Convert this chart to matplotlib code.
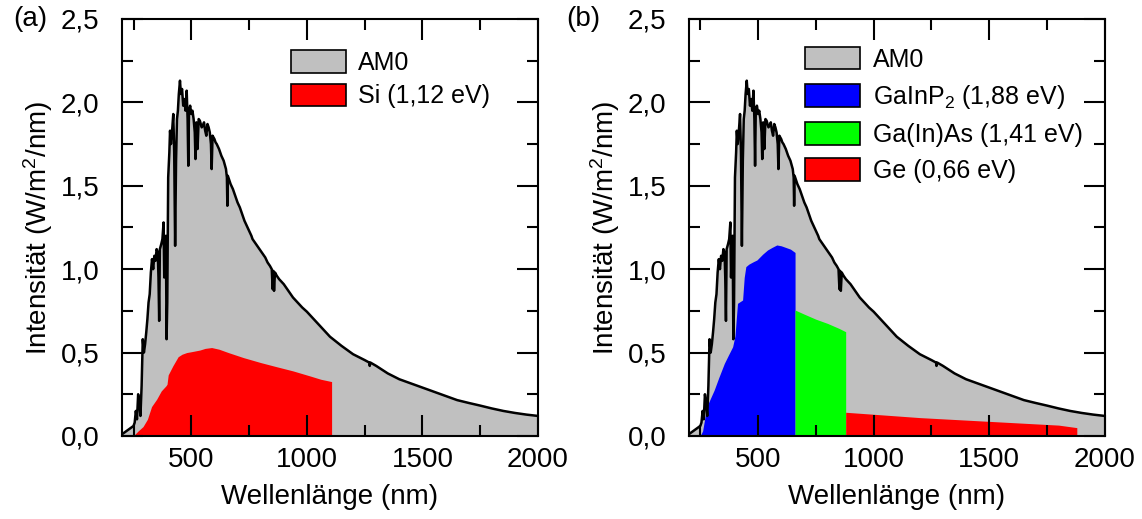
import matplotlib
matplotlib.use("Agg")
import matplotlib.pyplot as plt
from matplotlib.patches import Patch
from matplotlib.ticker import MultipleLocator, FuncFormatter

plt.rcParams['font.family'] = ['Liberation Sans', 'DejaVu Sans']
plt.rcParams['mathtext.fontset'] = 'custom'
plt.rcParams['mathtext.rm'] = 'Liberation Sans'
plt.rcParams['mathtext.it'] = 'Liberation Sans:italic'
plt.rcParams['mathtext.default'] = 'regular'

# AM0 spectrum (nm, W/m^2/nm)
am0_wl = [200, 220, 240, 250, 255, 260, 265, 270, 275, 280, 285, 290, 295, 300,
          305, 310, 315, 320, 325, 330, 335, 340, 345, 350, 355, 358, 361, 364,
          370, 375, 380, 383, 386, 390, 393, 396, 400, 405, 408, 412, 418, 422,
          426, 430, 434, 438, 442, 446, 451, 455, 460, 465, 470, 475, 480, 484,
          487, 490, 495, 500, 505, 510, 515, 518, 522, 527, 532, 537, 545, 550,
          555, 560, 565, 570, 575, 580, 585, 588, 592, 600, 605, 610, 620, 630,
          640, 650, 654, 656, 658, 670, 680, 690, 700, 710, 720, 730, 740, 750,
          760, 765, 770, 780, 790, 800, 810, 820, 830, 840, 848, 852, 855, 858,
          862, 870, 880, 900, 920, 940, 960, 980, 1000, 1050, 1100, 1150, 1200,
          1250, 1270, 1272, 1275, 1300, 1350, 1400, 1450, 1500, 1550, 1600, 1650,
          1700, 1750, 1800, 1850, 1900, 1950, 2000]
am0_val = [0.01, 0.03, 0.05, 0.06, 0.08, 0.15, 0.10, 0.25, 0.20, 0.12, 0.30, 0.58,
           0.50, 0.55, 0.62, 0.70, 0.80, 0.85, 0.98, 1.06, 1.00, 1.08, 1.05, 1.12,
           1.10, 0.95, 0.69, 1.12, 1.15, 1.18, 1.28, 0.95, 1.10, 1.20, 0.58, 0.80,
           1.55, 1.70, 1.83, 1.75, 1.85, 1.93, 1.70, 1.14, 1.65, 1.90, 1.95, 2.05,
           2.13, 2.05, 2.08, 1.98, 2.02, 1.95, 2.07, 1.90, 1.62, 1.95, 1.98, 1.93,
           1.95, 1.90, 1.82, 1.66, 1.88, 1.72, 1.90, 1.89, 1.85, 1.86, 1.88, 1.83,
           1.80, 1.87, 1.85, 1.82, 1.75, 1.60, 1.80, 1.78, 1.76, 1.75, 1.72, 1.68,
           1.65, 1.60, 1.55, 1.38, 1.56, 1.51, 1.48, 1.44, 1.40, 1.37, 1.33, 1.29,
           1.26, 1.23, 1.20, 1.18, 1.17, 1.15, 1.13, 1.11, 1.09, 1.07, 1.04, 1.02,
           1.00, 0.88, 0.99, 0.87, 0.98, 0.96, 0.94, 0.91, 0.87, 0.83, 0.80, 0.77,
           0.745, 0.67, 0.595, 0.54, 0.49, 0.455, 0.44, 0.42, 0.44, 0.42, 0.375,
           0.34, 0.315, 0.29, 0.265, 0.24, 0.215, 0.198, 0.182, 0.165, 0.150,
           0.138, 0.128, 0.12]

# (a) Si usable part
si_wl = [250, 256, 270, 291, 310, 328, 350, 370, 390, 395, 400, 420, 443, 460,
         480, 500, 537, 560, 588, 620, 660, 725, 800, 869, 940, 1013, 1060, 1107, 1107]
si_val = [0.0, 0.01, 0.03, 0.056, 0.10, 0.176, 0.22, 0.27, 0.30, 0.31, 0.366, 0.42,
          0.475, 0.49, 0.50, 0.505, 0.515, 0.525, 0.53, 0.52, 0.50, 0.47, 0.44,
          0.415, 0.39, 0.36, 0.34, 0.326, 0.0]

# (b) triple junction
gainp_wl = [249, 260, 278, 310, 330, 354, 370, 390, 400, 411, 433, 440, 447, 460,
            480, 495, 520, 541, 560, 581, 600, 620, 640, 660, 660]
gainp_val = [0.0, 0.03, 0.176, 0.275, 0.35, 0.435, 0.48, 0.535, 0.60, 0.795, 0.815,
             0.95, 1.015, 1.03, 1.045, 1.055, 1.09, 1.115, 1.13, 1.145, 1.14, 1.13,
             1.12, 1.10, 0.0]
gainas_wl = [660, 660, 700, 750, 800, 850, 879, 879]
gainas_val = [0.0, 0.755, 0.73, 0.70, 0.675, 0.645, 0.625, 0.0]
ge_wl = [879, 879, 1000, 1200, 1400, 1600, 1800, 1879, 1879]
ge_val = [0.0, 0.142, 0.13, 0.11, 0.095, 0.08, 0.065, 0.05, 0.0]

fig = plt.figure(figsize=(11.42, 5.19), dpi=100)
ax_a = fig.add_axes([0.1068, 0.160, 0.3643, 0.8035])
ax_b = fig.add_axes([0.6031, 0.160, 0.3643, 0.8035])

comma = FuncFormatter(lambda v, p: f"{v:.1f}".replace('.', ','))


def base_panel(ax):
    ax.fill_between(am0_wl, am0_val, 0, color='#c0c0c0', lw=0)


def style(ax):
    ax.plot(am0_wl, am0_val, color='black', lw=1.8, zorder=5)
    ax.set_xlim(200, 2000)
    ax.set_ylim(0, 2.5)
    ax.xaxis.set_major_locator(MultipleLocator(500))
    ax.xaxis.set_minor_locator(MultipleLocator(250))
    ax.yaxis.set_major_locator(MultipleLocator(0.5))
    ax.yaxis.set_minor_locator(MultipleLocator(0.25))
    ax.yaxis.set_major_formatter(comma)
    ax.tick_params(which='both', direction='in', top=True, right=True,
                   width=1.5, labelsize=20)
    ax.tick_params(which='major', length=15)
    ax.tick_params(which='minor', length=8)
    ax.tick_params(axis='x', pad=8)
    ax.tick_params(axis='y', pad=16)
    for s in ax.spines.values():
        s.set_linewidth(1.5)
        s.set_zorder(10)
    ax.set_xlabel('Wellenlänge (nm)', fontsize=20)
    ax.set_ylabel('Intensität (W/m$^2$/nm)', fontsize=20)
    ax.xaxis.set_label_coords(0.5, -0.115)
    ax.yaxis.set_label_coords(-0.16, 0.5)


# panel (a)
base_panel(ax_a)
ax_a.fill_between(si_wl, si_val, 0, color='#ff0000', lw=0)
style(ax_a)
h_a = [Patch(facecolor='#c0c0c0', edgecolor='black', lw=1.2, label='AM0'),
       Patch(facecolor='#ff0000', edgecolor='black', lw=1.2, label='Si (1,12 eV)')]
ax_a.legend(handles=h_a, loc='upper left', bbox_to_anchor=(0.406, 0.925),
            frameon=False, fontsize=18, handlelength=2.2, handleheight=1.0,
            handletextpad=0.5, labelspacing=0.35, borderpad=0, borderaxespad=0)

# panel (b)
base_panel(ax_b)
ax_b.fill_between(gainp_wl, gainp_val, 0, color='#0000ff', lw=0)
ax_b.fill_between(gainas_wl, gainas_val, 0, color='#00ff00', lw=0)
ax_b.fill_between(ge_wl, ge_val, 0, color='#ff0000', lw=0)
style(ax_b)
h_b = [Patch(facecolor='#c0c0c0', edgecolor='black', lw=1.2, label='AM0'),
       Patch(facecolor='#0000ff', edgecolor='black', lw=1.2, label='GaInP$_2$ (1,88 eV)'),
       Patch(facecolor='#00ff00', edgecolor='black', lw=1.2, label='Ga(In)As (1,41 eV)'),
       Patch(facecolor='#ff0000', edgecolor='black', lw=1.2, label='Ge (0,66 eV)')]
ax_b.legend(handles=h_b, loc='upper left', bbox_to_anchor=(0.28, 0.933),
            frameon=False, fontsize=18, handlelength=2.2, handleheight=1.0,
            handletextpad=0.5, labelspacing=0.45, borderpad=0, borderaxespad=0)

fig.text(0.012, 0.963, '(a)', fontsize=20, va='center', ha='left')
fig.text(0.496, 0.963, '(b)', fontsize=20, va='center', ha='left')

fig.savefig('out.png', dpi=100)
